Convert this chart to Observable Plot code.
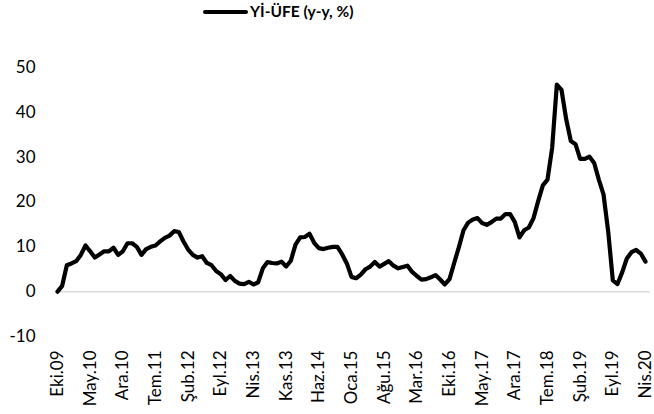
<!DOCTYPE html>
<html>
<head>
<meta charset="utf-8">
<script src="https://cdn.jsdelivr.net/npm/d3@7"></script>
<script src="https://cdn.jsdelivr.net/npm/@observablehq/plot@0.6"></script>
<style>
  html, body { margin: 0; padding: 0; background: #fff; }
  #wrap { width: 654px; height: 414px; overflow: hidden; font-family: Lato, "Open Sans", sans-serif; }
  #legend { height: 26px; position: relative; }
  #legend .sw { position: absolute; left: 203px; top: 10px; width: 45px; height: 4px; background: #000; border-radius: 2px; }
  #legend .tx { position: absolute; left: 250px; top: 2px; font-weight: bold; font-size: 15.5px; color: #000; white-space: nowrap; }
</style>
</head>
<body>
<div id="wrap">
  <div id="legend"><span class="sw"></span><span class="tx">Yİ-ÜFE (y-y, %)</span></div>
  <div id="chart"></div>
</div>
<script>
const seriesName = "Yİ-ÜFE (y-y, %)";
// Monthly values, Oct 2009 .. Apr 2020
const values = [
  0.0, 1.3, 5.9,                                                   // 2009 Oct-Dec
  6.3, 6.8, 8.2, 10.3, 9.0, 7.6, 8.3, 9.0, 9.0, 9.8, 8.2, 9.0,      // 2010
  10.8, 10.8, 10.0, 8.2, 9.5, 10.0, 10.3, 11.2, 12.0, 12.5, 13.5, 13.3, // 2011
  11.2, 9.4, 8.2, 7.6, 7.9, 6.4, 5.9, 4.6, 3.9, 2.6, 3.5, 2.4,      // 2012
  1.8, 1.7, 2.2, 1.6, 2.1, 5.2, 6.6, 6.4, 6.3, 6.7, 5.6, 6.9,       // 2013
  10.5, 12.1, 12.2, 12.9, 10.9, 9.7, 9.5, 9.8, 10.0, 10.0, 8.3, 6.3, // 2014
  3.3, 3.0, 3.8, 5.0, 5.6, 6.6, 5.6, 6.2, 6.8, 5.8, 5.2, 5.5,       // 2015
  5.8, 4.4, 3.5, 2.7, 2.8, 3.2, 3.7, 2.7, 1.6, 2.8, 6.4, 9.9,       // 2016
  13.7, 15.4, 16.1, 16.4, 15.3, 14.9, 15.5, 16.3, 16.3, 17.3, 17.3, 15.5, // 2017
  12.1, 13.7, 14.3, 16.4, 20.2, 23.7, 25.0, 32.1, 46.2, 45.0, 38.5, 33.6, // 2018
  32.9, 29.6, 29.6, 30.1, 28.7, 25.0, 21.7, 13.5, 2.5, 1.7, 4.3, 7.4,     // 2019
  8.8, 9.3, 8.5, 6.7                                                // 2020 Jan-Apr
];
const tickLabels = ["Eki.09","May.10","Ara.10","Tem.11","Şub.12","Eyl.12","Nis.13","Kas.13","Haz.14","Oca.15","Ağu.15","Mar.16","Eki.16","May.17","Ara.17","Tem.18","Şub.19","Eyl.19","Nis.20"];
const tickStep = 7;
const yTicks = [-10, 0, 10, 20, 30, 40, 50];

const data = values.map((v, i) => ({i, v}));
const xTicks = tickLabels.map((_, k) => k * tickStep);

const chart = Plot.plot({
  width: 654,
  height: 388,
  marginLeft: 57,
  marginRight: 9,
  marginTop: 41,
  marginBottom: 78,
  style: {fontFamily: "Lato, 'Open Sans', sans-serif", color: "#000", background: "#fff"},
  x: {domain: [0, values.length - 1], axis: null},
  y: {domain: [-10, 50], axis: null},
  marks: [
    Plot.ruleY([0], {stroke: "#d9d9d9", strokeWidth: 1.5, x1: 0, x2: values.length}),
    Plot.axisY(yTicks, {tickSize: 0, tickPadding: 22, fontSize: 17, fill: "#000", label: null,
      tickFormat: d => String(d)}),
    Plot.axisX(xTicks, {tickSize: 0, tickPadding: 14, tickRotate: -90, fontSize: 17, fill: "#000", label: null,
      tickFormat: d => tickLabels[d / tickStep]}),
    Plot.line(data, {x: "i", y: "v", stroke: "#000", strokeWidth: 4.2, strokeLinejoin: "round", strokeLinecap: "round"})
  ]
});
document.getElementById("chart").appendChild(chart);
</script>
</body>
</html>
